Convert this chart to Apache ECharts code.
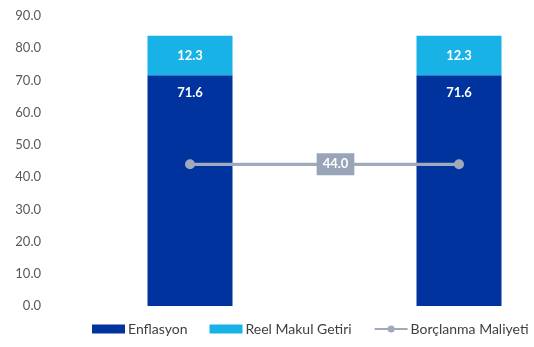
<!DOCTYPE html>
<html><head><meta charset="utf-8">
<script src="https://cdn.jsdelivr.net/npm/echarts@6/dist/echarts.min.js"></script>
<style>html,body{margin:0;padding:0;background:#fff}#c{width:534px;height:347px}</style>
</head><body><div id="c"></div>
<script>
var categories = ['A', 'B'];
var enflasyon = [71.6, 71.6];
var reelGetiri = [12.3, 12.3];
var borclanma = [44.0, 44.0];
var yTicks = [0, 10, 20, 30, 40, 50, 60, 70, 80, 90];
var font = 'Lato';
var chart = echarts.init(document.getElementById('c'));
chart.setOption({
  animation: false,
  textStyle: {fontFamily: font},
  grid: {left: 190, right: 75, top: 16, bottom: 41},
  xAxis: {type: 'category', data: categories, boundaryGap: false,
    axisLine: {show: false}, axisTick: {show: false}, axisLabel: {show: false}, splitLine: {show: false}},
  yAxis: {type: 'value', min: yTicks[0], max: yTicks[yTicks.length - 1], interval: 10,
    axisLine: {show: false}, axisTick: {show: false}, splitLine: {show: false},
    axisLabel: {margin: 149, color: '#595959', fontSize: 13, fontFamily: font,
      formatter: function (v) { return v.toFixed(1); }}},
  legend: {bottom: 6, left: 87, width: 447, itemWidth: 33, itemHeight: 9, itemGap: 22,
    textStyle: {color: '#404040', fontSize: 14, fontFamily: font, padding: [0, 0, 0, -2]},
    data: [{name: 'Enflasyon', icon: 'rect'}, {name: 'Reel Makul Getiri', icon: 'rect'},
      {name: 'Borçlanma Maliyeti', itemStyle: {borderWidth: 0}}]},
  series: [
    {name: 'Enflasyon', type: 'bar', stack: 's', barWidth: 85, data: enflasyon,
      itemStyle: {color: '#00339e'},
      label: {show: true, position: 'insideTop', distance: 11, color: '#fff', fontWeight: 'bold', fontSize: 13,
        formatter: function (p) { return p.value.toFixed(1); }}},
    {name: 'Reel Makul Getiri', type: 'bar', stack: 's', barWidth: 85, data: reelGetiri,
      itemStyle: {color: '#19b2e6'},
      label: {show: true, position: 'inside', color: '#fff', fontWeight: 'bold', fontSize: 13,
        formatter: function (p) { return p.value.toFixed(1); }}},
    {name: 'Borçlanma Maliyeti', type: 'line', data: borclanma, symbol: 'circle', symbolSize: 10,
      itemStyle: {color: '#a0aabb'}, lineStyle: {color: '#a0aabb', width: 3},
      markLine: {silent: true, symbol: 'none',
        lineStyle: {color: '#a0aabb', width: 3, type: 'solid'},
        label: {show: true, position: 'middle', distance: 0, verticalAlign: 'middle', offset: [11, 0],
          backgroundColor: '#98a4b8', color: '#fff',
          fontWeight: 'bold', fontSize: 13, padding: [5, 6, 4, 6],
          formatter: function () { return borclanma[0].toFixed(1); }},
        data: [[{coord: [0, borclanma[0]]}, {coord: [1, borclanma[1]]}]]}}
  ]
});
</script></body></html>
